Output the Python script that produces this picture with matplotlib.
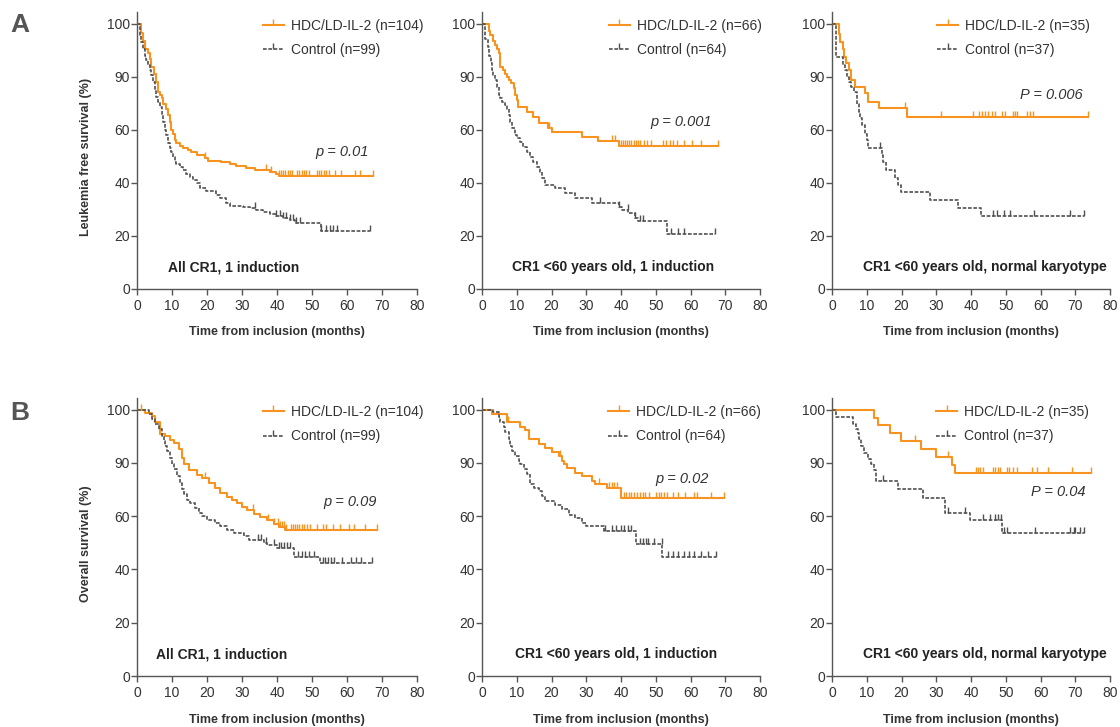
import numpy as np
import matplotlib.pyplot as plt
from matplotlib.lines import Line2D
from matplotlib.markers import TICKUP

plt.rcParams['font.family'] = ['Liberation Sans', 'DejaVu Sans']

ORANGE = '#F7931E'
GREY = '#505050'
TXT = '#333333'

# ---- Leukemia free survival, all CR1, 1 induction
lfs_all_hdc_t = [0, 1.2, 1.7, 2.3, 3.1, 3.8, 4.1, 4.8, 5.3, 6.0, 6.5, 7.0, 7.4, 8.2, 8.9, 9.3, 9.8, 10.3,
                 10.8, 11.2, 12.2, 13.1, 14.6, 15.5, 17.0, 19.3, 20.3, 24.1, 26.5, 28.4, 31.2, 33.6, 37.9,
                 39.8, 40.5, 67.4]
lfs_all_hdc_s = [100, 98.3, 96.8, 95.3, 94.4, 93.4, 91.9, 90.6, 87.0, 81.4, 79.5, 77.7, 74.8, 72.0, 68.2,
                 64.5, 59.9, 58.6, 56.1, 54.9, 54.0, 53.0, 52.4, 51.5, 50.5, 49.2, 48.2, 48.0, 47.1, 46.5,
                 45.7, 44.8, 44.2, 43.2, 42.7, 42.7]
lfs_all_hdc_c = [19.5, 36.9, 38.4, 40.5, 41.2, 41.8, 42.4, 43.0, 43.6, 44.2, 45.6, 46.3, 47.0, 47.6, 48.3,
                 49.0, 51.3, 52.0, 52.7, 53.4, 54.1, 54.8, 56.5, 58.4, 62.4, 63.8, 67.4]
lfs_all_ctl_t = [0, 0.8, 1.25, 1.7, 2.2, 2.7, 3.1, 3.6, 4.1, 4.6, 5.0, 5.5, 6.0, 6.5, 7.0, 7.4, 7.9, 8.4,
                 8.9, 9.3, 9.8, 10.3, 10.8, 11.2, 12.2, 13.1, 14.1, 15.1, 16.0, 17.0, 17.9, 19.8, 22.7,
                 23.6, 25.5, 26.5, 30.3, 32.2, 34.1, 36.0, 37.9, 39.8, 41.7, 43.6, 45.0, 52.7, 66.5]
lfs_all_ctl_s = [100, 97.8, 96.6, 95.3, 94.0, 93.1, 92.2, 91.2, 90.3, 87.0, 82.4, 78.6, 75.8, 72.9, 68.2,
                 64.5, 59.9, 58.0, 54.9, 53.0, 51.7, 49.8, 47.9, 47.3, 46.1, 44.8, 43.5, 42.3, 41.1, 39.8,
                 37.9, 36.9, 35.4, 34.2, 32.3, 31.4, 31.0, 30.4, 29.8, 28.9, 28.2, 27.7, 26.9, 26.1, 24.8,
                 21.8, 21.8]
lfs_all_ctl_c = [33.6, 39.8, 40.9, 41.7, 42.7, 43.6, 44.6, 45.5, 46.5, 52.7, 54.1, 55.1, 56.0, 57.0, 66.5]

# ---- LFS, <60 years, 1 induction
lfs_u60_hdc_t = [0, 1.9, 2.4, 3.3, 3.8, 4.3, 4.8, 5.1, 5.3, 5.9, 6.7, 7.2, 7.7, 8.4, 9.1, 9.6, 10.0, 10.5,
                 12.9, 14.8, 16.3, 19.1, 20.1, 28.7, 33.5, 39.3, 67.8]
lfs_u60_hdc_s = [100, 98.7, 97.8, 96.8, 95.9, 95.3, 94.4, 93.1, 91.9, 91.2, 90.6, 90.0, 88.1, 86.2, 83.4,
                 79.6, 76.8, 72.9, 70.2, 67.3, 63.6, 60.8, 59.0, 57.4, 55.8, 54.0, 54.0]
lfs_u60_hdc_c = [19.2, 37.5, 38.3, 40.0, 40.6, 41.2, 41.8, 42.4, 43.0, 43.6, 44.2, 44.8, 45.5, 46.5, 47.5,
                 48.5, 52.0, 53.0, 54.0, 55.0, 56.0, 58.0, 60.5, 63.0, 67.8]
lfs_u60_ctl_t = [0, 0.95, 1.7, 2.1, 2.6, 2.9, 3.3, 3.8, 4.3, 4.8, 5.3, 5.7, 6.5, 7.2, 7.7, 8.1, 8.6, 9.4,
                 10.0, 11.0, 11.9, 12.9, 13.9, 14.8, 15.8, 16.8, 17.2, 18.2, 21.1, 23.9, 26.8, 31.6, 39.3,
                 40.2, 42.1, 44.0, 45.0, 53.1, 67.0]
lfs_u60_ctl_s = [100, 97.2, 95.6, 94.0, 92.5, 91.2, 90.3, 88.1, 84.3, 79.6, 77.7, 75.8, 73.8, 72.0, 68.2,
                 64.5, 60.8, 58.0, 56.8, 55.5, 53.6, 51.7, 49.8, 47.9, 46.1, 44.2, 41.7, 39.2, 37.9, 36.1,
                 34.2, 32.3, 31.0, 29.8, 28.5, 26.6, 25.6, 20.7, 20.7]
lfs_u60_ctl_c = [34.0, 39.3, 42.0, 44.0, 45.5, 46.3, 54.5, 56.5, 58.0, 67.0]

# ---- LFS, <60 years, normal karyotype
lfs_nk_hdc_t = [0, 1.9, 2.4, 3.1, 3.5, 4.0, 4.8, 5.5, 6.5, 9.4, 10.3, 13.4, 21.5, 73.7]
lfs_nk_hdc_s = [100, 98.1, 96.6, 95.3, 93.8, 92.5, 91.2, 88.1, 84.3, 80.6, 75.8, 72.5, 67.3, 67.3]
lfs_nk_hdc_c = [21.1, 31.4, 40.7, 42.3, 43.1, 44.0, 45.0, 45.9, 46.9, 48.8, 49.8, 52.2, 52.7, 53.2, 56.0,
                57.0, 57.9, 73.7]
lfs_nk_ctl_t = [0, 1.2, 3.1, 3.8, 4.3, 4.8, 5.5, 6.2, 7.2, 7.7, 8.1, 8.6, 9.4, 10.0, 10.5, 14.3, 14.8,
                15.5, 18.2, 19.0, 19.9, 28.2, 36.4, 42.9, 72.6]
lfs_nk_ctl_s = [100, 93.8, 92.2, 91.2, 90.0, 87.0, 84.3, 81.4, 74.8, 70.2, 66.4, 62.7, 58.6, 56.1, 53.0,
                50.5, 48.0, 44.8, 41.7, 39.2, 36.7, 33.6, 30.7, 27.7, 27.7]
lfs_nk_ctl_c = [13.9, 46.4, 47.4, 49.4, 51.2, 58.2, 68.5, 72.6]

# ---- Overall survival, all CR1, 1 induction
os_all_hdc_t = [0, 2.4, 4.3, 5.2, 6.5, 6.7, 8.1, 9.5, 10.5, 11.9, 12.9, 13.3, 14.8, 17.1, 18.6, 20.5, 22.4,
                23.8, 25.7, 27.1, 28.6, 30.0, 31.4, 33.3, 35.2, 37.2, 39.0, 40.5, 42.4, 68.6]
os_all_hdc_s = [100, 99.4, 98.9, 97.6, 96.5, 95.4, 95.0, 94.4, 93.8, 92.6, 91.0, 89.3, 86.3, 83.4, 81.6,
                78.7, 75.8, 73.0, 71.1, 69.2, 67.3, 65.4, 63.4, 61.5, 59.7, 58.5, 57.2, 55.9, 54.7, 54.7]
os_all_hdc_c = [1.0, 6.7, 19.5, 33.0, 37.5, 39.0, 40.2, 40.8, 41.4, 42.0, 42.6, 44.0, 44.6, 45.2, 45.8,
                46.4, 47.0, 47.6, 48.5, 49.5, 51.5, 53.0, 54.0, 56.0, 58.0, 60.5, 62.0, 65.0, 68.6]
os_all_ctl_t = [0, 3.3, 4.3, 5.2, 6.2, 7.1, 7.6, 8.1, 8.6, 9.5, 10.0, 10.5, 11.4, 12.4, 12.8, 13.3, 14.3,
                15.2, 16.7, 17.6, 18.6, 20.0, 22.4, 23.8, 25.7, 27.6, 30.5, 31.9, 36.2, 37.1, 40.0, 44.8,
                52.4, 67.1]
os_all_ctl_s = [100, 99.2, 98.3, 97.3, 96.3, 95.1, 94.1, 93.2, 92.2, 91.0, 89.3, 86.4, 82.6, 78.9, 75.1,
                72.3, 69.4, 67.5, 64.6, 61.8, 60.0, 58.7, 57.4, 56.2, 54.9, 53.7, 52.4, 51.1, 49.9, 49.2,
                47.9, 44.8, 42.3, 42.3]
os_all_ctl_c = [34.5, 35.5, 36.8, 39.0, 40.5, 41.2, 42.0, 42.8, 43.6, 46.0, 47.0, 48.0, 49.0, 50.5, 53.0,
                53.8, 54.6, 55.4, 56.2, 58.5, 61.0, 62.5, 64.0, 67.1]

# ---- OS, <60 years, 1 induction
os_u60_hdc_t = [0, 2.9, 7.2, 11.0, 12.5, 13.4, 16.3, 18.2, 20.2, 22.1, 23.0, 23.5, 24.5, 26.9, 28.8, 31.7,
                32.6, 36.0, 39.9, 69.6]
os_u60_hdc_s = [100, 99.2, 97.7, 96.7, 96.1, 94.5, 93.6, 92.9, 92.0, 91.4, 90.4, 89.4, 87.4, 84.6, 82.7,
                79.8, 78.0, 76.0, 70.3, 70.3]
os_u60_hdc_c = [7.5, 22.5, 33.7, 36.5, 37.3, 38.1, 38.9, 40.8, 41.5, 42.2, 43.0, 43.8, 44.6, 45.4, 46.2,
                47.0, 48.0, 50.0, 50.8, 51.6, 52.4, 53.2, 55.0, 56.5, 58.5, 61.0, 62.0, 66.0, 69.6]
os_u60_ctl_t = [0, 3.3, 4.8, 5.3, 6.2, 6.7, 7.7, 8.1, 8.6, 9.6, 10.6, 11.0, 12.0, 12.9, 13.9, 14.9, 16.3,
                17.3, 18.2, 21.1, 23.0, 24.9, 26.9, 28.8, 29.8, 35.0, 44.2, 51.9, 67.2]
os_u60_ctl_s = [100, 99.6, 98.7, 97.7, 96.7, 95.8, 94.5, 93.2, 92.3, 91.4, 90.4, 89.4, 86.5, 83.7, 78.0,
                76.0, 74.2, 71.4, 68.5, 66.6, 63.8, 60.9, 59.4, 57.5, 56.2, 54.4, 49.6, 44.6, 44.6]
os_u60_ctl_c = [35.5, 37.5, 38.5, 40.0, 41.0, 42.0, 43.0, 45.5, 46.3, 47.1, 47.9, 49.5, 51.7, 53.5, 55.0,
                56.5, 58.0, 59.5, 61.0, 63.0, 65.0, 67.2]

# ---- OS, <60 years, normal karyotype
os_nk_hdc_t = [0, 12.2, 13.2, 16.6, 19.9, 25.5, 29.8, 34.4, 35.4, 74.4]
os_nk_hdc_s = [100, 98.4, 97.1, 95.6, 94.2, 92.7, 91.2, 88.7, 84.5, 84.5]
os_nk_hdc_c = [23.8, 33.4, 41.3, 42.0, 42.6, 43.5, 46.4, 47.0, 47.7, 48.4, 50.3, 51.0, 52.0, 53.2, 57.5,
               58.9, 62.3, 69.1, 74.4]
os_nk_ctl_t = [0, 1.2, 5.9, 6.9, 7.4, 7.9, 8.4, 9.3, 10.3, 11.3, 12.2, 12.7, 19.0, 26.2, 32.4, 39.7, 48.8,
               72.4]
os_nk_ctl_s = [100, 98.6, 97.3, 96.3, 95.7, 94.5, 93.2, 91.9, 90.7, 89.2, 86.3, 79.6, 75.3, 70.2, 61.8,
               58.5, 53.7, 53.7]
os_nk_ctl_c = [14.6, 33.4, 38.2, 43.5, 45.5, 47.0, 47.8, 48.5, 49.5, 50.5, 58.5, 68.5, 69.5, 70.0, 71.5,
               72.4]

y_ticks = [0, 20, 40, 60, 90, 100]
x_ticks = [0, 10, 20, 30, 40, 50, 60, 70, 80]
subtitles = ['All CR1, 1 induction', 'CR1 <60 years old, 1 induction',
             'CR1 <60 years old, normal karyotype']
hdc_n = [104, 66, 35]
ctl_n = [99, 64, 37]
p_lfs = ['p = 0.01', 'p = 0.001', 'P = 0.006']
p_os = ['p = 0.09', 'p = 0.02', 'P = 0.04']


# y axis is stretched piecewise: 0-20-40-60-90-100 equally spaced
def fwd(y):
    y = np.asarray(y, dtype=float)
    return np.where(y <= 60, y, np.where(y <= 90, 60 + (y - 60) * 2 / 3, 80 + (y - 90) * 2))


def inv(p):
    p = np.asarray(p, dtype=float)
    return np.where(p <= 60, p, np.where(p <= 80, 60 + (p - 60) * 1.5, 90 + (p - 80) * 0.5))


def km(ax, t, s, cens, color, ls, lw, ms):
    t = np.asarray(t)
    s = np.asarray(s)
    ax.plot(t, s, drawstyle='steps-post', color=color, linestyle=ls, lw=lw, zorder=3)
    c = np.asarray(cens)
    idx = np.searchsorted(t, c, side='right') - 1
    ax.plot(c, s[idx], linestyle='none', marker=TICKUP, color=color, ms=ms, mew=1.0, zorder=3)


W, H = 1120, 727
fig = plt.figure(figsize=(W / 100, H / 100), dpi=100)

lefts = [137, 482, 832]
widths = [280, 278, 278]
rows = [(12, 289), (398, 676)]

panels = [
    [(lfs_all_hdc_t, lfs_all_hdc_s, lfs_all_hdc_c, lfs_all_ctl_t, lfs_all_ctl_s, lfs_all_ctl_c),
     (lfs_u60_hdc_t, lfs_u60_hdc_s, lfs_u60_hdc_c, lfs_u60_ctl_t, lfs_u60_ctl_s, lfs_u60_ctl_c),
     (lfs_nk_hdc_t, lfs_nk_hdc_s, lfs_nk_hdc_c, lfs_nk_ctl_t, lfs_nk_ctl_s, lfs_nk_ctl_c)],
    [(os_all_hdc_t, os_all_hdc_s, os_all_hdc_c, os_all_ctl_t, os_all_ctl_s, os_all_ctl_c),
     (os_u60_hdc_t, os_u60_hdc_s, os_u60_hdc_c, os_u60_ctl_t, os_u60_ctl_s, os_u60_ctl_c),
     (os_nk_hdc_t, os_nk_hdc_s, os_nk_hdc_c, os_nk_ctl_t, os_nk_ctl_s, os_nk_ctl_c)],
]

leg_x = [[0.45, 0.457, 0.378], [0.45, 0.455, 0.375]]
p_pos = [[(0.636, 0.495), (0.604, 0.603), (0.676, 0.70)],
         [(0.664, 0.626), (0.622, 0.709), (0.715, 0.662)]]
sub_x = [[0.11, 0.108, 0.11], [0.068, 0.119, 0.112]]
ylabels = ['Leukemia free survival (%)', 'Overall survival (%)']
pvals = [p_lfs, p_os]

for r, (top, bot) in enumerate(rows):
    for c in range(3):
        ax = fig.add_axes([lefts[c] / W, 1 - bot / H, widths[c] / W, (bot - top) / H])
        ax.set_yscale('function', functions=(fwd, inv))
        ht, hs, hc, ct, cs, cc = panels[r][c]
        km(ax, ht, hs, hc, ORANGE, '-', 1.5, 4.5)
        km(ax, ct, cs, cc, GREY, (0, (2.2, 1.0)), 1.2, 4)

        ax.set_xlim(0, 80)
        ax.set_ylim(0, 102.2)
        ax.set_xticks(x_ticks)
        ax.set_yticks(y_ticks)
        ax.set_yticklabels([str(v) for v in y_ticks])
        ax.minorticks_off()
        for sp in ['top', 'right']:
            ax.spines[sp].set_visible(False)
        for sp in ['left', 'bottom']:
            ax.spines[sp].set_color('#555555')
            ax.spines[sp].set_linewidth(1.0)
        ax.tick_params(axis='y', direction='out', length=4, width=1, color='#555555',
                       labelsize=10, labelcolor=TXT, pad=1)
        ax.tick_params(axis='x', direction='out', length=4, width=1, color='#555555',
                       labelsize=10, labelcolor=TXT, pad=3)

        ax.set_xlabel('Time from inclusion (months)', fontsize=9, fontweight='bold', color=TXT)
        ax.xaxis.set_label_coords(0.5, -0.135)
        if c == 0:
            ax.set_ylabel(ylabels[r], fontsize=9, fontweight='bold', color=TXT)
            ax.yaxis.set_label_coords(-0.16, 0.475)

        handles = [Line2D([], [], color=ORANGE, lw=1.5, marker=TICKUP, ms=4.5, mew=1.0),
                   Line2D([], [], color=GREY, lw=1.2, ls=(0, (2.2, 1.0)), marker=TICKUP, ms=4, mew=1.0)]
        labels = ['HDC/LD-IL-2 (n=%d)' % hdc_n[c], 'Control (n=%d)' % ctl_n[c]]
        leg = ax.legend(handles, labels, loc='upper left', bbox_to_anchor=(leg_x[r][c], 0.975),
                        frameon=False, fontsize=10, handlelength=1.5, handletextpad=0.5,
                        labelspacing=0.75, borderaxespad=0, borderpad=0, numpoints=1)
        for tx in leg.get_texts():
            tx.set_color(TXT)

        px, py = p_pos[r][c]
        ax.text(px, py, pvals[r][c], transform=ax.transAxes, fontsize=10.5, style='italic',
                color=TXT, ha='left', va='center')
        ax.text(sub_x[r][c], 0.078, subtitles[c], transform=ax.transAxes, fontsize=10,
                fontweight='bold', color='#222222', ha='left', va='center')

fig.text(20 / W, 1 - 25 / H, 'A', fontsize=19, fontweight='bold', color='#555555', ha='center', va='center')
fig.text(20 / W, 1 - 413 / H, 'B', fontsize=19, fontweight='bold', color='#555555', ha='center', va='center')

fig.savefig('out.png', dpi=100)
